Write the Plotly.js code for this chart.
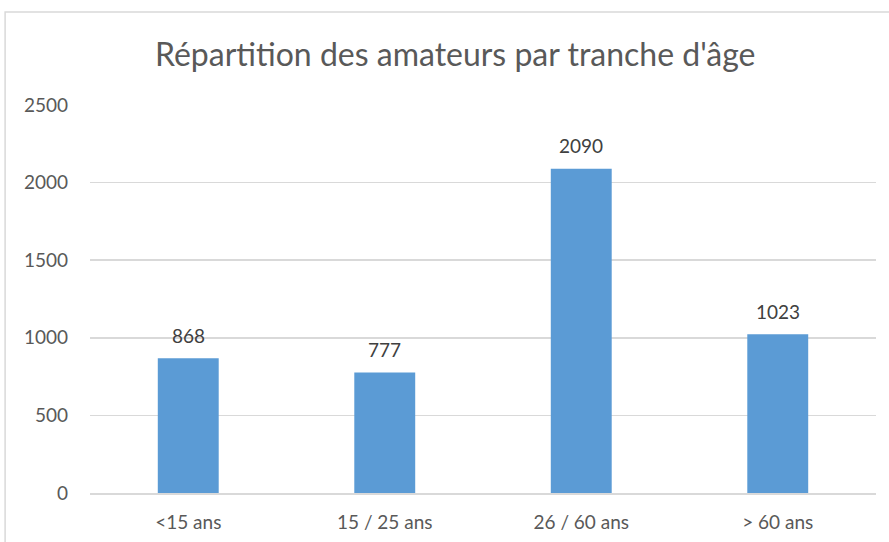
<!DOCTYPE html>
<html><head><meta charset="utf-8">
<script src="https://cdn.plot.ly/plotly-3.0.1.min.js"></script>
<style>html,body{margin:0;padding:0;background:#fff}#chart{width:889px;height:542px}</style>
</head><body><div id="chart"></div>
<script>
const categories = ["<15 ans", "15 / 25 ans", "26 / 60 ans", "> 60 ans"];
const values = [868, 777, 2090, 1023];
const yTicks = [0, 500, 1000, 1500, 2000, 2500];

const FONT = "Lato, 'Open Sans', sans-serif";
const trace = {
  type: "bar",
  x: categories,
  y: values,
  marker: {color: "#5B9BD5"},
  hoverinfo: "none"
};
const labels = categories.map((c, i) => ({
  x: c, y: values[i], xref: "x", yref: "y", text: String(values[i]), showarrow: false,
  yanchor: "middle", yshift: 23, font: {family: FONT, size: 19, color: "#404040"}
}));
const layout = {
  width: 889, height: 542,
  margin: {l: 90, r: 13, t: 105, b: 49},
  paper_bgcolor: "#ffffff", plot_bgcolor: "#ffffff",
  bargap: 0.69,
  showlegend: false,
  title: {text: "Répartition des amateurs par tranche d'âge", font: {family: FONT, size: 32, color: "#595959"},
          x: 0.512, xref: "container", y: 0.899, yref: "container", xanchor: "center", yanchor: "middle"},
  xaxis: {type: "category", tickfont: {family: FONT, size: 19, color: "#595959"}, showgrid: false,
          showline: true, linecolor: "#D9D9D9", linewidth: 1.5, ticks: "", ticklabelstandoff: 12, fixedrange: true},
  yaxis: {range: [0, 2500], tickvals: yTicks, ticktext: yTicks.map(String), showgrid: true, gridcolor: "#D9D9D9", gridwidth: 1.5,
          zeroline: false, tickfont: {family: FONT, size: 19, color: "#595959"}, ticks: "", ticklabelstandoff: 21, fixedrange: true},
  annotations: labels,
  shapes: [{type: "rect", xref: "paper", yref: "paper", x0: -0.108, x1: 1.05, y0: -0.16, y1: 1.2397,
            line: {color: "#D9D9D9", width: 1.5}, fillcolor: "rgba(0,0,0,0)", layer: "below"}]
};
Plotly.newPlot("chart", [trace], layout, {displayModeBar: false, staticPlot: true});
</script></body></html>
